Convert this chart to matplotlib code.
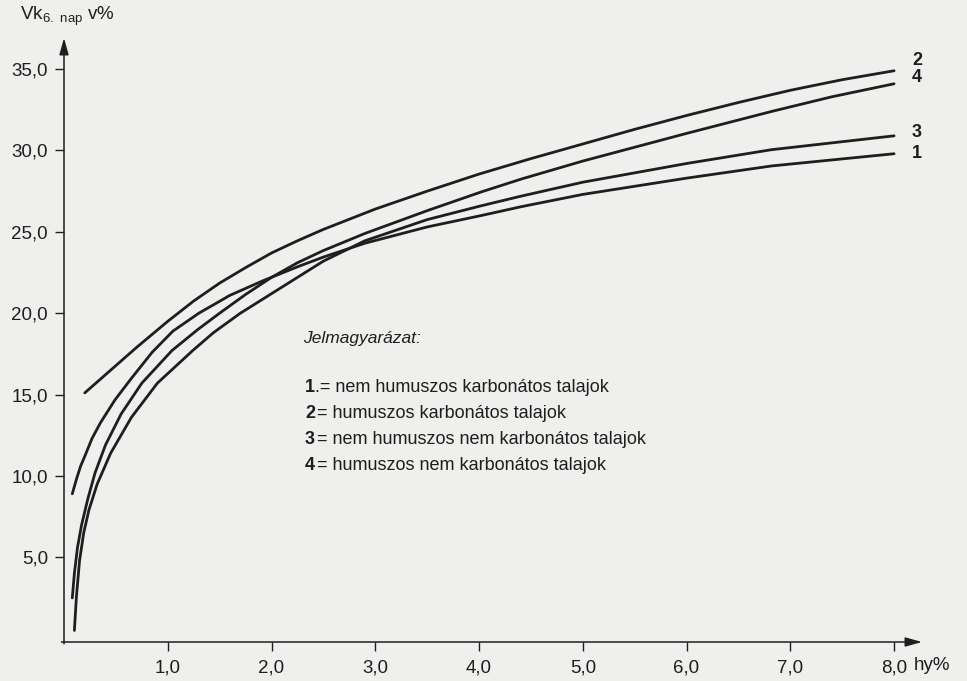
import matplotlib
matplotlib.use("Agg")
import matplotlib.pyplot as plt

plt.rcParams['font.family'] = ['Liberation Sans', 'DejaVu Sans']
plt.rcParams['mathtext.fontset'] = 'custom'
plt.rcParams['mathtext.rm'] = 'Liberation Sans'

INK = '#1e1e1e'
PAPER = '#efefed'

# hy% (x) and Vk 6. nap v% (y) for the four soil groups
hy_1 = [0.08, 0.12, 0.16, 0.20, 0.27, 0.35, 0.49, 0.65, 0.85, 1.05, 1.30, 1.60,
        1.92, 2.25, 2.50, 2.90, 3.50, 4.02, 4.41, 5.00, 6.00, 6.82, 8.00]
vk_1 = [8.9, 9.8, 10.6, 11.2, 12.3, 13.25, 14.66, 16.0, 17.6, 18.9, 20.0, 21.1,
        22.0, 22.85, 23.45, 24.3, 25.3, 26.0, 26.55, 27.3, 28.3, 29.05, 29.8]

hy_2 = [0.20, 0.45, 0.70, 1.00, 1.25, 1.50, 1.75, 2.00, 2.25, 2.50, 3.00, 3.50, 4.00,
        4.50, 5.00, 5.50, 6.00, 6.50, 7.00, 7.50, 8.00]
vk_2 = [15.1, 16.5, 17.9, 19.5, 20.75, 21.85, 22.8, 23.7, 24.45, 25.15, 26.4, 27.5, 28.55,
        29.5, 30.4, 31.3, 32.15, 32.95, 33.7, 34.35, 34.9]

hy_3 = [0.10, 0.12, 0.15, 0.19, 0.24, 0.32, 0.45, 0.65, 0.90, 1.24, 1.44, 1.70, 2.00,
        2.50, 2.90, 3.50, 4.02, 4.41, 5.00, 6.00, 6.82, 8.00]
vk_3 = [0.5, 2.6, 4.8, 6.5, 7.9, 9.5, 11.4, 13.6, 15.7, 17.7, 18.8, 20.0, 21.2,
        23.2, 24.45, 25.75, 26.6, 27.2, 28.05, 29.2, 30.05, 30.9]

hy_4 = [0.08, 0.10, 0.13, 0.17, 0.23, 0.30, 0.40, 0.55, 0.75, 1.04, 1.29, 1.50, 1.75,
        2.00, 2.25, 2.50, 2.90, 3.50, 4.02, 4.41, 5.00, 5.50, 6.00, 6.82, 7.40, 8.00]
vk_4 = [2.5, 4.0, 5.6, 7.0, 8.6, 10.2, 11.9, 13.8, 15.7, 17.7, 19.0, 20.0, 21.15,
        22.2, 23.1, 23.85, 24.9, 26.3, 27.45, 28.25, 29.35, 30.2, 31.05, 32.4, 33.3, 34.1]

x_ticks = [1, 2, 3, 4, 5, 6, 7, 8]
y_ticks = [5, 10, 15, 20, 25, 30, 35]
x_tick_labels = ['1,0', '2,0', '3,0', '4,0', '5,0', '6,0', '7,0', '8,0']
y_tick_labels = ['5,0', '10,0', '15,0', '20,0', '25,0', '30,0', '35,0']

curve_names = ['1', '2', '3', '4']
legend_texts = [
    '.= nem humuszos karbonátos talajok',
    '= humuszos karbonátos talajok',
    '= nem humuszos nem karbonátos talajok',
    '= humuszos nem karbonátos talajok',
]

W, H = 967, 681
fig = plt.figure(figsize=(W / 100, H / 100), dpi=100, facecolor=PAPER)

# axes box in pixels: origin at (64, 642), arrow tips at x=922 and y=38
left_px, bottom_px, right_px, top_px = 64, 642, 922, 38
ax = fig.add_axes([left_px / W, 1 - bottom_px / H,
                   (right_px - left_px) / W, (bottom_px - top_px) / H])
ax.set_facecolor('none')

ax.set_xlim(0, (right_px - left_px) / 103.76)
ax.set_ylim(-0.21, -0.21 + (bottom_px - top_px) / 16.27)

for s in ax.spines.values():
    s.set_visible(False)

# axes drawn as arrows
arrow_kw = dict(arrowstyle='-|>,head_length=1.0,head_width=0.28', color=INK,
                lw=1.1, mutation_scale=10, shrinkA=0, shrinkB=0)
ax.annotate('', xy=(1.0, 0), xytext=(-0.003, 0), xycoords='axes fraction',
            arrowprops=arrow_kw)
ax.annotate('', xy=(0, 1.0), xytext=(0, -0.003), xycoords='axes fraction',
            arrowprops=arrow_kw)

ax.set_xticks(x_ticks)
ax.set_xticklabels(x_tick_labels)
ax.set_yticks(y_ticks)
ax.set_yticklabels(y_tick_labels)
ax.tick_params(axis='both', direction='out', length=6.5, width=1.0, color=INK,
               labelsize=13.5, labelcolor=INK)
ax.tick_params(axis='x', pad=6)
ax.tick_params(axis='y', pad=5)

series = [(hy_1, vk_1), (hy_2, vk_2), (hy_3, vk_3), (hy_4, vk_4)]
for hx, vy in series:
    ax.plot(hx, vy, color=INK, lw=2.0, solid_capstyle='round',
            solid_joinstyle='round', clip_on=False)

# curve numbers at the right ends
end_label_y = {'2': 35.5, '4': 34.5, '3': 31.1, '1': 29.8}
for name in curve_names:
    ax.text(8.22, end_label_y[name], name, ha='center', va='center',
            fontsize=13, fontweight='bold', color=INK)

# axis titles
fig.text(20 / W, 1 - 16 / H, r'Vk$_{\mathregular{6.\ nap}}$ v%', ha='left',
         va='center', fontsize=13.5, color=INK)
fig.text(914 / W, 1 - 665 / H, 'hy%', ha='left', va='center',
         fontsize=13.5, color=INK)

# legend block
fig.text(303 / W, 1 - 338 / H, 'Jelmagyarázat:', ha='left', va='center',
         fontsize=12.5, style='italic', color=INK)
for i, (name, txt) in enumerate(zip(curve_names, legend_texts)):
    yy = 1 - (388 + 26 * i) / H
    fig.text(305 / W, yy, name, ha='left', va='center', fontsize=13,
             fontweight='bold', color=INK)
    fig.text((315 if i == 0 else 317) / W, yy, txt, ha='left', va='center',
             fontsize=13, color=INK)

fig.savefig('out.png', dpi=100, facecolor=PAPER)
